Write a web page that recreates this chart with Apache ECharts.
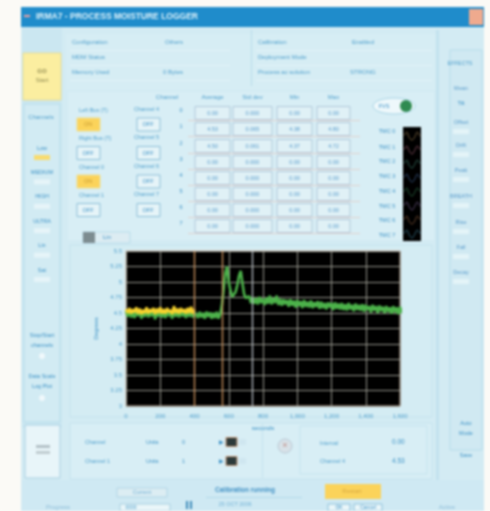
<!DOCTYPE html>
<html><head><meta charset="utf-8">
<script src="https://cdn.jsdelivr.net/npm/echarts@6/dist/echarts.min.js"></script>
<style>html,body{margin:0;padding:0;background:#fbfaf6;overflow:hidden}
#c{width:490px;height:511px;filter:blur(0.85px)}</style></head>
<body><div id="c"></div>
<script>
var xTicks = [0,200,400,600,800,1000,1200,1400,1600];
var sampleStep = 10;
var yellowValues = [4.56,4.50,4.58,4.49,4.56,4.51,4.59,4.49,4.57,4.48,4.55,4.50,4.59,4.49,4.56,4.51,4.58,4.48,4.57,4.50,4.59,4.49,4.56,4.49,4.58,4.51,4.55,4.48,4.61,4.50,4.57,4.49,4.58,4.51,4.56,4.49,4.58,4.50,4.60,4.49,4.56];
var greenValues = [4.53,4.44,4.54,4.43,4.51,4.42,4.55,4.45,4.53,4.41,4.52,4.44,4.56,4.43,4.51,4.45,4.54,4.40,4.53,4.44,4.55,4.43,4.52,4.42,4.54,4.45,4.51,4.41,4.57,4.44,4.53,4.43,4.54,4.45,4.51,4.42,4.53,4.44,4.55,4.43,4.52,
4.51,4.42,4.52,4.43,4.50,4.41,4.52,4.44,4.51,4.41,4.50,4.42,4.52,4.41,4.48,
4.62,4.88,5.14,5.25,5.00,4.86,4.76,4.74,4.84,4.95,5.10,5.18,4.98,4.80,4.74,4.71,4.77,4.66,4.75,4.65,
4.74,4.64,4.76,4.66,4.73,4.63,4.75,4.65,4.78,4.64,4.74,4.66,4.78,4.63,4.73,4.62,4.72,4.64,4.71,4.60,4.72,4.62,4.70,4.59,4.71,4.61,4.69,4.58,4.71,4.60,
4.68,4.59,4.70,4.58,4.67,4.60,4.69,4.57,4.68,4.58,4.66,4.56,4.67,4.59,4.66,4.55,4.67,4.57,4.65,4.56,4.66,4.55,4.64,4.54,4.66,4.56,4.63,4.53,4.65,4.55,
4.63,4.54,4.64,4.52,4.63,4.55,4.61,4.51,4.63,4.54,4.61,4.50,4.62,4.53,4.60,4.50,4.61,4.52,4.59,4.49,4.61,4.51,4.59,4.48,4.60,4.50,4.58,4.49,4.60,4.51,4.57];
var cursorPositions = [400,560,737];
var sparkValues = [
 [7.45,7.7,7.3,7.15,7.35,7.7,7.4],[6.45,6.7,6.35,6.15,6.4,6.7,6.45],[5.45,5.7,5.3,5.15,5.4,5.7,5.45],[4.45,4.7,4.35,4.15,4.35,4.7,4.4],
 [3.45,3.7,3.3,3.15,3.4,3.7,3.45],[2.45,2.7,2.35,2.15,2.4,2.7,2.4],[1.45,1.7,1.3,1.15,1.35,1.7,1.45],[0.45,0.7,0.35,0.15,0.4,0.7,0.45]];
var sparkColors = ['#8a7048','#94586a','#3a7868','#3f6090','#2f7048','#705a88','#85583a','#3a7890'];
var infoTexts = [['Configuration',72,42],['Others',165,42],['Calibration',258,42],['Enabled',352,42],['MDM Status',72,57],['Deployment Mode',258,57],['Memory Used',72,72],['0 Bytes',163,72],['Process ac solution',258,72],['STRONG',350,72]];
var tableHeaders = ['Average','Std dev','Min','Max'];
var tableRows = [
 ['0.00','0.000','0.00','0.00'],['4.53','0.065','4.38','4.80'],['4.50','0.061','4.37','4.72'],['0.00','0.000','0.00','0.00'],
 ['0.00','0.000','0.00','0.00'],['0.00','0.000','0.00','0.00'],['0.00','0.000','0.00','0.00'],['0.00','0.000','0.00','0.00']];
var leftChannels = ['Left Bus (T)','Right Bus (T)','Channel 0','Channel 1'];
var rightChannels = ['Channel 4','Channel 5','Channel 6','Channel 7'];
var channelStates = ['ON','OFF','ON','OFF'];
var leftMenu = ['Low','MEDIUM','HIGH','ULTRA','Lin','Sat'];
var rightMenu = ['Mean','Offset','Drift','Peak','BREATH','Rise','Fall','Decay'];

function pts(vals,start){return vals.map(function(v,i){return [(start||0)+i*sampleStep,v];});}
var INK='#3c92c6',SOFT='#4f9fcc',LINE='#c4e3ee',G=[];
function rect(x,y,w,h,fill,stroke,r){G.push({type:'rect',z:-5,shape:{x:x,y:y,width:w,height:h,r:r||0},style:{fill:fill||'transparent',stroke:stroke||null,lineWidth:1}});}
function txt(s,x,y,o){o=o||{};G.push({type:'text',z:-5,x:x,y:y,style:{text:s,fill:o.c||INK,font:(o.b?'bold ':'')+(o.s||6)+'px "Liberation Sans"',textAlign:o.a||'left',textVerticalAlign:'middle'},rotation:o.r||0});}
function circle(x,y,r,fill,stroke){G.push({type:'circle',z:-5,shape:{cx:x,cy:y,r:r},style:{fill:fill,stroke:stroke||null}});}

// window
rect(21,7,463,504,'#d3ebf3');
rect(21,7,463,20,'#1f8ccb');
rect(469,9,14,16,'#efaa8e');
rect(24,15,6,2,'#f0a0a0');
txt('IRMA7 - PROCESS MOISTURE LOGGER',36,17,{c:'#dff2fa',b:1,s:8.5});
// panels
rect(22,28,40,400,'#cbe7f1');
rect(24,104,36,318,'#d2ebf3','#b7dcea');
rect(66,34,372,56,'#d6edf4');
rect(68,92,366,148,'#d8eef5');
rect(70,245,362,172,'#d4ecf3',LINE);
rect(70,423,362,56,'#d8eef5',LINE);
rect(450,50,32,400,'#d0e9f2','#b7dcea');
rect(436,30,3,450,'#c2e2ee');
rect(22,480,462,31,'#cfe9f3');
// top info
infoTexts.forEach(function(t){txt(t[0],t[1],t[2],{c:SOFT});});
[50,65,80].forEach(function(y){rect(70,y,160,0.6,'#eef8fb');rect(256,y,176,0.6,'#eef8fb');});
rect(251,30,1,56,'#b7dcea');
// mode button
rect(23,53,38,47,'#fbeea0','#e3dc9a');
txt('GO',42,71,{a:'center',c:'#8f8a50',b:1});txt('Start',42,80,{a:'center',c:'#8f8a50'});
txt('Channels',41,117,{a:'center',c:SOFT});
leftMenu.forEach(function(t,i){var y=148+i*24.4;txt(t,42,y,{a:'center',s:5.5});rect(34,y+7,16,5,i==0?'#f8dc70':'#e6f4f8');});
txt('Stop/Start',42,335,{a:'center',s:5.5});txt('channels',42,345,{a:'center',s:5.5});circle(42,356,3,'#f0f8fb');
txt('Data Scale',42,376,{a:'center',s:5.5});txt('Log Plot',42,386,{a:'center',s:5.5});circle(42,398,3,'#f0f8fb');
rect(25,425,35,53,'#e8f5f9','#a8d0e2');
rect(36,445,14,3,'#b4c2c8');rect(36,451,14,3,'#c0ccd0');
// channels
[0,1,2,3].forEach(function(i){var y=110+i*28.5;
 txt(leftChannels[i],79,y,{s:5.5,c:SOFT});txt(rightChannels[i],134,y-1,{s:5.5,c:SOFT});
 var on=channelStates[i]=='ON';
 rect(77,y+8,23,13,on?'#fbd35a':'#e6f4f8',on?'#f0e090':'#8cbfd8');txt(channelStates[i],88,y+14.5,{a:'center',s:5.5,c:on?'#c79a30':INK});
 rect(137,y+8,23,13,'#e6f4f8','#8cbfd8');txt('OFF',148,y+14.5,{a:'center',s:5.5});
});
// table
txt('Channel',167,97,{a:'center',c:SOFT});
var colX=[195,233,277,317],colW=[35,39,35,33],rowY=[113,129,146,162,178,194,210,226];
tableHeaders.forEach(function(h,j){txt(h,colX[j]+colW[j]/2,97,{a:'center',c:SOFT});});
tableRows.forEach(function(r,i){txt(String(i),181,rowY[i]-3,{a:'center',s:5.5});
 r.forEach(function(v,j){rect(colX[j],rowY[i]-6.5,colW[j],13,'#e0f1f6','#b0c8da');txt(v,colX[j]+colW[j]/2,rowY[i],{a:'center',s:5.5,c:'#5a9ccc'});});
 rect(188,rowY[i]+7,172,0.8,'#e5c8c0');
});
// toggle
G.push({type:'ellipse',z:-5,shape:{cx:394,cy:106,rx:21,ry:8},style:{fill:'#eef8fb',stroke:'#a8d5e6'}});
circle(406,106,6,'#2f8a50');txt('FVS',384,106,{s:5.5,a:'center'});
[131,147,161,176,191,206,220,235].forEach(function(y,i){txt('TMC '+i,387,y,{a:'center',s:5.5});});
rect(403,127,18,114,'#000');
// plot controls
rect(83,232,47,11,'#dcecf2','#b7dcea');rect(83,232,12,11,'#7d8c90');txt('Lin',107,237,{a:'center',s:6});
rect(262,423,1,55,LINE);
// bottom readouts
[[442,'Channel'],[461,'Channel 1']].forEach(function(r,i){var y=r[0];
 txt(r[1],85,y,{s:5.5,a:'left',c:SOFT});txt('Units',146,y,{s:5.5});txt(String(i),182,y,{s:5.5});
 txt('▶',219,y,{s:6});rect(226,y-4.5,11,9,'#2c3a3a','#c89a78');rect(239,y-3,7,6,'#cfe6f0');});
circle(285,446,7,'#d8e2e8','#b8c8d4');txt('×',285,446,{a:'center',s:9,c:'#c09088'});
rect(300,426,127,48,'#d8eef5',LINE);
txt('Interval',320,443,{s:5.5,c:SOFT});txt('Channel 4',320,461,{s:5.5,c:SOFT});
txt('0.00',392,442,{s:6.5});txt('4.53',392,461,{s:6.5});
txt('Auto',466,423,{a:'center',s:5.5});txt('Mode',466,433,{a:'center',s:5.5});txt('Save',466,455,{a:'center',s:5.5});
// right menu
txt('EFFECTS',460,63,{a:'center',s:5.5,c:SOFT});
txt('Tilt',461,103,{a:'center',s:5.5});
var rightYs=[88,122,145,170,196,222,247,272];
rightMenu.forEach(function(t,i){txt(t,461,rightYs[i],{a:'center',s:5.5,c:'#5a9ccc'});if(i)rect(453,rightYs[i]+7,16,5,'#e4f4f8');});
// footer
txt('Calibration running',245,490,{a:'center',b:1,s:6.5,c:'#3f90c4'});rect(206,497,96,0.8,'#a8d5e6');
txt('25 OCT 2006',235,504,{a:'center',s:5.5,c:'#6fb0d5'});
rect(325,484,56,15,'#fbd35a');txt('Restart',352,491,{a:'center',s:6,c:'#d8a840'});
rect(117,488,50,9,'#dcedf3','#b0d4e4');txt('Current',142,492.5,{a:'center',s:5.5,c:'#6fb0d5'});
rect(120,504,50,7,'#eaf6f9','#a8cfe0');txt('0000',131,508,{a:'center',s:5,c:SOFT});
rect(186,501,2,8,'#3f8cba');rect(190,501,2,8,'#3f8cba');
rect(328,504,22,7,'#eaf6f9','#8cc0da');rect(354,504,28,7,'#eaf6f9','#8cc0da');
txt('OK',339,508,{a:'center',s:5});txt('Cancel',368,508,{a:'center',s:5});
txt('Progress',58,507,{a:'center',c:'#8cbcd8'});txt('Active',447,507,{a:'center',c:'#8cbcd8'});

var chart=echarts.init(document.getElementById('c'),null,{renderer:'canvas'});
var series=[
 {name:'Channel 0',type:'line',data:pts(greenValues),showSymbol:false,lineStyle:{color:'#4cb24a',width:2.6},z:3,
  markLine:{silent:true,symbol:'none',label:{show:false},animation:false,
   data:cursorPositions.map(function(x,i){return {xAxis:x,lineStyle:{color:i<2?'#d09660':'#b8c0c8',width:1.3,type:'solid'}};})}},
 {name:'Left Bus',type:'line',data:pts(yellowValues),showSymbol:false,lineStyle:{color:'#f6d32e',width:2.6},z:4}
];
sparkValues.forEach(function(v,i){series.push({name:'TMC '+i,type:'line',xAxisIndex:1,yAxisIndex:1,data:v,showSymbol:false,smooth:true,lineStyle:{color:sparkColors[i],width:0.8}});});
chart.setOption({
 animation:false,backgroundColor:'#fbfaf6',
 graphic:{elements:G},
 grid:[{left:126,top:251,width:274,height:155,backgroundColor:'#000',show:true,borderColor:'#d8b8a4',borderWidth:1},
       {left:404,top:128,width:16,height:112,show:false}],
 xAxis:[{type:'value',min:0,max:1600,interval:200,name:'seconds',nameLocation:'middle',nameGap:19,nameTextStyle:{color:INK,fontSize:6,fontFamily:'Liberation Sans'},
   axisLine:{show:false},axisTick:{show:false},axisLabel:{color:SOFT,fontSize:6,fontFamily:'Liberation Sans',margin:7,customValues:xTicks},
   splitLine:{lineStyle:{color:'#9a9a90',width:1}}},
  {type:'category',gridIndex:1,show:false,boundaryGap:false,data:['a','b','c','d','e','f','g']}],
 yAxis:[{type:'value',min:3,max:5.5,interval:0.25,name:'Degrees',nameLocation:'middle',nameGap:24,nameTextStyle:{color:INK,fontSize:6,fontFamily:'Liberation Sans'},
   axisLine:{show:false},axisTick:{show:false},axisLabel:{color:SOFT,fontSize:6,fontFamily:'Liberation Sans',margin:4},
   splitLine:{lineStyle:{color:'#9a9a90',width:1}}},
  {type:'value',gridIndex:1,show:false,min:0,max:8}],
 series:series
});
</script></body></html>
